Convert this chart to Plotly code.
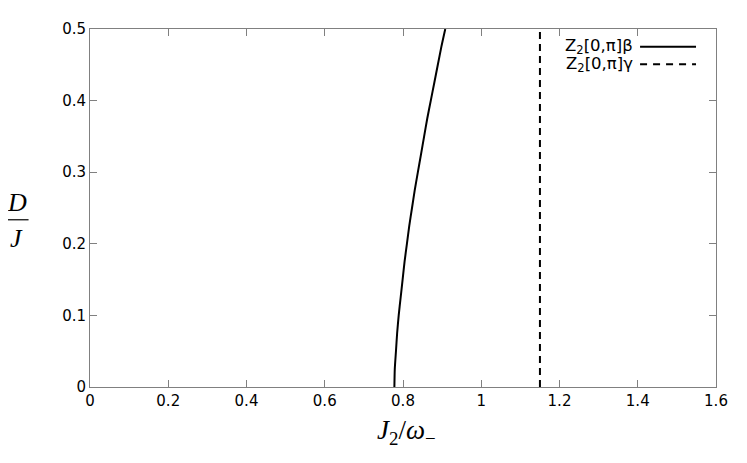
import plotly.graph_objects as go

# Data
beta_x = [0.778, 0.779, 0.782, 0.785, 0.789, 0.794, 0.799, 0.804, 0.810, 0.816, 0.823, 0.830, 0.838, 0.846, 0.854, 0.862, 0.871, 0.880, 0.889, 0.898, 0.908]
beta_y = [0.000, 0.025, 0.050, 0.075, 0.100, 0.125, 0.150, 0.175, 0.200, 0.225, 0.250, 0.275, 0.300, 0.325, 0.350, 0.375, 0.400, 0.425, 0.450, 0.475, 0.500]
gamma_x = [1.150, 1.150]
gamma_y = [0.0, 0.5]
legend_labels = ["Z<sub>2</sub>[0,π]β", "Z<sub>2</sub>[0,π]γ"]
x_ticks = [0, 0.2, 0.4, 0.6, 0.8, 1.0, 1.2, 1.4, 1.6]
x_ticktext = ["0", "0.2", "0.4", "0.6", "0.8", "1", "1.2", "1.4", "1.6"]
y_ticks = [0, 0.1, 0.2, 0.3, 0.4, 0.5]
y_ticktext = ["0", "0.1", "0.2", "0.3", "0.4", "0.5"]

fig = go.Figure()
fig.add_trace(go.Scatter(x=beta_x, y=beta_y, mode="lines",
                         line=dict(color="black", width=2, shape="spline", smoothing=0.6),
                         name=legend_labels[0], showlegend=False))
fig.add_trace(go.Scatter(x=gamma_x, y=gamma_y, mode="lines",
                         line=dict(color="black", width=2, dash="7px,5px"),
                         name=legend_labels[1], showlegend=False))

# page has an 8px body margin; figure origin is at (8, 8) on the page
OFF = 8
W, H = 747 - OFF, 463 - OFF
L, R, T, B = 89.5 - OFF, 31, 22 - OFF, 76
pw, ph = W - L - R, H - T - B

def px(xp):  # page pixel -> paper coordinate
    return (xp - OFF - L) / pw

def py(yp):
    return 1 - (yp - OFF - T) / ph

axis_common = dict(showgrid=False, zeroline=False, showline=True, mirror="ticks",
                   linecolor="#808080", linewidth=1, ticks="inside", ticklen=7,
                   tickcolor="#808080", tickwidth=1,
                   tickfont=dict(family="DejaVu Sans", size=15, color="black"))

fig.update_layout(
    width=W, height=H,
    margin=dict(l=L, r=R, t=T, b=B, pad=0),
    plot_bgcolor="white", paper_bgcolor="white",
    xaxis=dict(range=[0, 1.6], tickvals=x_ticks, ticktext=x_ticktext, **axis_common),
    yaxis=dict(range=[0, 0.5], tickvals=y_ticks, ticktext=y_ticktext, **axis_common),
    showlegend=False,
)

serif = "Liberation Serif"
# x axis title
fig.add_annotation(xref="paper", yref="paper", x=px(406), y=py(433),
                   text="<i>J</i><sub>2</sub>/<i>ω</i><sub>−</sub>", showarrow=False,
                   font=dict(family=serif, size=27, color="black"),
                   xanchor="center", yanchor="middle")
# y axis title as a fraction
fig.add_annotation(xref="paper", yref="paper", x=px(16), y=py(199),
                   text="<i>D</i>", showarrow=False,
                   font=dict(family=serif, size=26, color="black"),
                   xanchor="center", yanchor="middle")
fig.add_annotation(xref="paper", yref="paper", x=px(16), y=py(236),
                   text="<i>J</i>", showarrow=False,
                   font=dict(family=serif, size=26, color="black"),
                   xanchor="center", yanchor="middle")
fig.add_shape(type="line", xref="paper", yref="paper",
              x0=px(4), x1=px(28), y0=py(216.5), y1=py(216.5),
              line=dict(color="black", width=1.2))

# manual legend (text on left, sample on right)
for i, (lab, dash) in enumerate(zip(legend_labels, ["solid", "7px,6px"])):
    yy = 40 + i * 18
    fig.add_annotation(xref="paper", yref="paper", x=px(635), y=py(yy),
                       text=lab, showarrow=False,
                       font=dict(family="DejaVu Sans", size=16.5, color="black"),
                       xanchor="right", yanchor="middle")
    fig.add_shape(type="line", xref="paper", yref="paper",
                  x0=px(640), x1=px(696), y0=py(yy), y1=py(yy),
                  line=dict(color="black", width=2, dash=dash))

fig.write_html("out.html")
